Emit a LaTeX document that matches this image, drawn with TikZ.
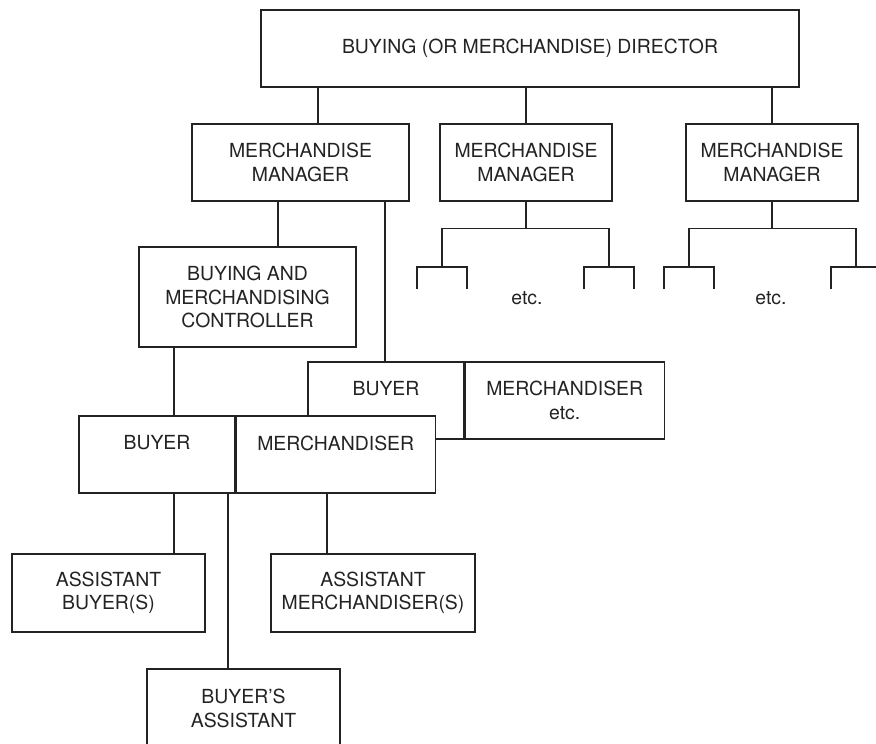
\documentclass[tikz,border=0pt]{standalone}
\usepackage{fontspec}
\setmainfont{TeX Gyre Heros}
\usepackage{tikz}
\definecolor{colink}{RGB}{35,35,35}
\usetikzlibrary{
	positioning
}
\newcommand{\orgfont}{\fontsize{19.4}{23.5}\selectfont}
\tikzset{
	orgbox/.style={rectangle, draw=colink, fill=white, line width=1.2pt, inner sep=0pt, align=center, font=\orgfont, text=colink},
	orgtext/.style={inner sep=0pt, align=center, font=\orgfont, text=colink},
	orgedge/.style={draw=colink, line width=1.2pt}
}

\begin{document}
\begin{tikzpicture}[x=1pt, y=-1pt]
	\useasboundingbox (0,0) rectangle (876,744);
	\clip (0,0) rectangle (876,744);

	\node[orgbox, minimum width=538pt, minimum height=77pt] (director) at (530,48.5) {BUYING (OR MERCHANDISE) DIRECTOR};
	\node[orgbox, minimum width=217pt, minimum height=77pt] (mmA) at (300.5,162.5) {MERCHANDISE\\MANAGER};
	\node[orgbox, minimum width=172pt, minimum height=77pt] (mmB) at (526,162.5) {MERCHANDISE\\MANAGER};
	\node[orgbox, minimum width=172pt, minimum height=77pt] (mmC) at (772,162.5) {MERCHANDISE\\MANAGER};
	\node[orgbox, minimum width=217pt, minimum height=100pt] (ctrl) at (247.5,297) {BUYING AND\\MERCHANDISING\\CONTROLLER};

	\node[orgbox, minimum width=156pt, minimum height=77pt] (buyerB) at (386,400.5) {};
	\node[orgbox, minimum width=199pt, minimum height=77pt, right=0pt of buyerB] (merchB) {MERCHANDISER\\etc.};
	\node[orgtext] (buyerBtxt) at ([yshift=11.5pt]buyerB.center) {BUYER};

	\node[orgbox, minimum width=156pt, minimum height=77pt] (buyerA) at (157,454.5) {};
	\node[orgbox, minimum width=199pt, minimum height=77pt, right=0pt of buyerA] (merchA) {};
	\node[orgtext] (buyerAtxt) at ([yshift=11.5pt]buyerA.center) {BUYER};
	\node[orgtext] (merchAtxt) at ([yshift=11.5pt]merchA.center) {MERCHANDISER};

	\node[orgbox, minimum width=193pt, minimum height=78pt] (asstBuy) at (108.5,593) {ASSISTANT\\BUYER(S)};
	\node[orgbox, minimum width=204pt, minimum height=78pt] (asstMerch) at (373,593) {ASSISTANT\\MERCHANDISER(S)};
	\node[orgbox, minimum width=193pt, minimum height=100pt] (buyAsst) at (243.5,719) {};
	\node[orgtext] (buyAsstTxt) at ([yshift=10.5pt]buyAsst.center) {BUYER'S\\ASSISTANT};

	\node[orgtext] (etcB) at (527,298) {etc.};
	\node[orgtext] (etcC) at (771,298) {etc.};

	\coordinate (xA) at (318,0);
	\coordinate (xB) at (385,0);
	\coordinate (xC) at (278,0);
	\coordinate (xD) at (174,0);
	\coordinate (xE) at (228,0);
	\coordinate (xF) at (327,0);

	\draw[orgedge] (director.south -| xA) -- (mmA.north -| xA);
	\draw[orgedge] (director.south -| mmB.north) -- (mmB.north);
	\draw[orgedge] (director.south -| mmC.north) -- (mmC.north);
	\draw[orgedge] (mmA.south -| xC) -- (ctrl.north -| xC);
	\draw[orgedge] (mmA.south -| xB) -- (buyerB.north -| xB);
	\draw[orgedge] (ctrl.south -| xD) -- (buyerA.north -| xD);
	\draw[orgedge] (buyerA.south -| xD) -- (asstBuy.north -| xD);
	\draw[orgedge] (buyerA.south -| xE) -- (buyAsst.north -| xE);
	\draw[orgedge] (merchA.south -| xF) -- (asstMerch.north -| xF);

	\foreach \cx/\hub in {442/mmB, 609/mmB, 689/mmC, 856/mmC} {
		\draw[orgedge] (\hub.south) -- ++(0,26.5) -| (\cx,267);
		\draw[orgedge] (\cx-25,289) |- (\cx+25,267) -- (\cx+25,289);
	}
\end{tikzpicture}
\end{document}
